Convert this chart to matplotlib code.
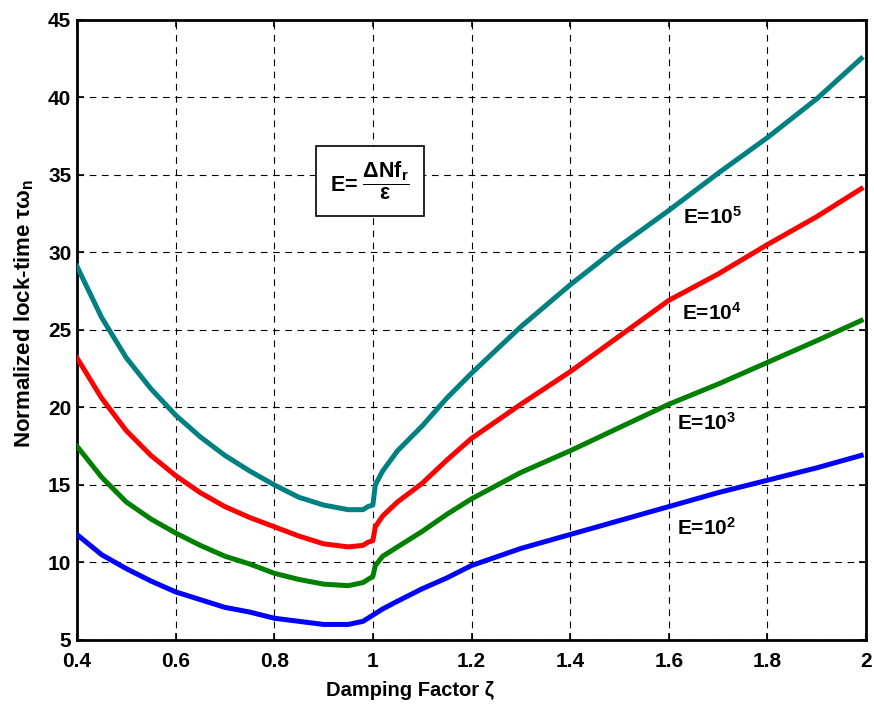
import numpy as np
import matplotlib
matplotlib.use('Agg')
import matplotlib.pyplot as plt
from matplotlib.ticker import FuncFormatter

plt.rcParams['font.family'] = ['Liberation Sans', 'DejaVu Sans']
plt.rcParams['font.weight'] = 'bold'
plt.rcParams['mathtext.fontset'] = 'custom'
plt.rcParams['mathtext.rm'] = 'Liberation Sans:bold'
plt.rcParams['mathtext.it'] = 'Liberation Sans:bold'
plt.rcParams['mathtext.bf'] = 'Liberation Sans:bold'

" DATA "

zeta = np.array([0.4, 0.45, 0.5, 0.55, 0.6, 0.65, 0.7, 0.75, 0.8, 0.85, 0.9, 0.95,
                 0.98, 0.99, 1.0, 1.005, 1.02, 1.05, 1.1, 1.15, 1.2, 1.3, 1.4,
                 1.5, 1.6, 1.7, 1.8, 1.9, 1.99])

E1e5 = np.array([29.1, 25.8, 23.2, 21.2, 19.5, 18.1, 16.9, 15.9, 15.0, 14.2, 13.7, 13.4,
                 13.4, 13.6, 13.7, 15.0, 15.9, 17.2, 18.8, 20.6, 22.2, 25.2, 27.9,
                 30.4, 32.7, 35.1, 37.4, 39.9, 42.5])
E1e4 = np.array([23.2, 20.6, 18.5, 16.9, 15.6, 14.5, 13.6, 12.9, 12.3, 11.7, 11.2, 11.0,
                 11.1, 11.3, 11.4, 12.3, 13.0, 13.9, 15.1, 16.6, 18.0, 20.2, 22.3,
                 24.6, 26.9, 28.6, 30.5, 32.3, 34.1])
E1e3 = np.array([17.5, 15.5, 13.9, 12.8, 11.9, 11.1, 10.4, 9.9, 9.3, 8.9, 8.6, 8.5,
                 8.7, 8.9, 9.1, 9.8, 10.4, 11.0, 12.0, 13.1, 14.1, 15.8, 17.2,
                 18.7, 20.2, 21.5, 22.9, 24.3, 25.6])
E1e2 = np.array([11.8, 10.5, 9.6, 8.8, 8.1, 7.6, 7.1, 6.8, 6.4, 6.2, 6.0, 6.0,
                 6.2, 6.4, 6.6, 6.7, 7.0, 7.5, 8.3, 9.0, 9.8, 10.9, 11.8,
                 12.7, 13.6, 14.5, 15.3, 16.1, 16.9])

labels = ['E=10$^5$', 'E=10$^4$', 'E=10$^3$', 'E=10$^2$']
label_pos = [(1.688, 32.3), (1.688, 26.1), (1.676, 19.0), (1.676, 12.2)]

" PLOT "

fig = plt.figure(figsize=(8.74, 7.04), dpi=100)
ax = fig.add_axes([0.088, 0.091, 0.903, 0.881])

ax.plot(zeta, E1e5, color='#008080', lw=3.6, zorder=3)
ax.plot(zeta, E1e4, color='#ff0000', lw=3.6, zorder=3)
ax.plot(zeta, E1e3, color='#008000', lw=3.6, zorder=3)
ax.plot(zeta, E1e2, color='#0000ff', lw=3.6, zorder=3)

for txt, (xx, yy) in zip(labels, label_pos):
    ax.text(xx, yy, txt, fontsize=15, fontweight='bold', ha='center', va='center')

# formula box
ax.text(0.994, 34.6, r'E= $\dfrac{\Delta Nf_r}{\varepsilon}$', fontsize=15.5,
        ha='center', va='center', zorder=4,
        bbox=dict(boxstyle='square,pad=0.65', fc='white', ec='black', lw=1.2))

ax.set_xlim(0.4, 2)
ax.set_ylim(5, 45)
ax.set_xticks(np.arange(0.4, 2.01, 0.2))
ax.set_yticks(np.arange(5, 46, 5))
ax.xaxis.set_major_formatter(FuncFormatter(lambda v, p: f'{v:g}'))
ax.tick_params(direction='in', top=True, right=True, labelsize=15, length=5, width=1.2)
ax.tick_params(axis='x', pad=9)
ax.tick_params(axis='y', pad=4)
for lab in ax.get_xticklabels() + ax.get_yticklabels():
    lab.set_fontweight('bold')

ax.grid(True, color='black', linestyle=(0, (6, 5)), lw=0.8)
for s in ax.spines.values():
    s.set_linewidth(2)

ax.set_xlabel('Damping Factor ζ', fontsize=14.5, fontweight='bold')
ax.xaxis.set_label_coords(0.422, -0.066)
ax.set_ylabel('Normalized lock-time τω$_\\mathrm{n}$', fontsize=16, fontweight='bold')
ax.yaxis.set_label_coords(-0.052, 0.527)

fig.savefig('out.png', dpi=100)
